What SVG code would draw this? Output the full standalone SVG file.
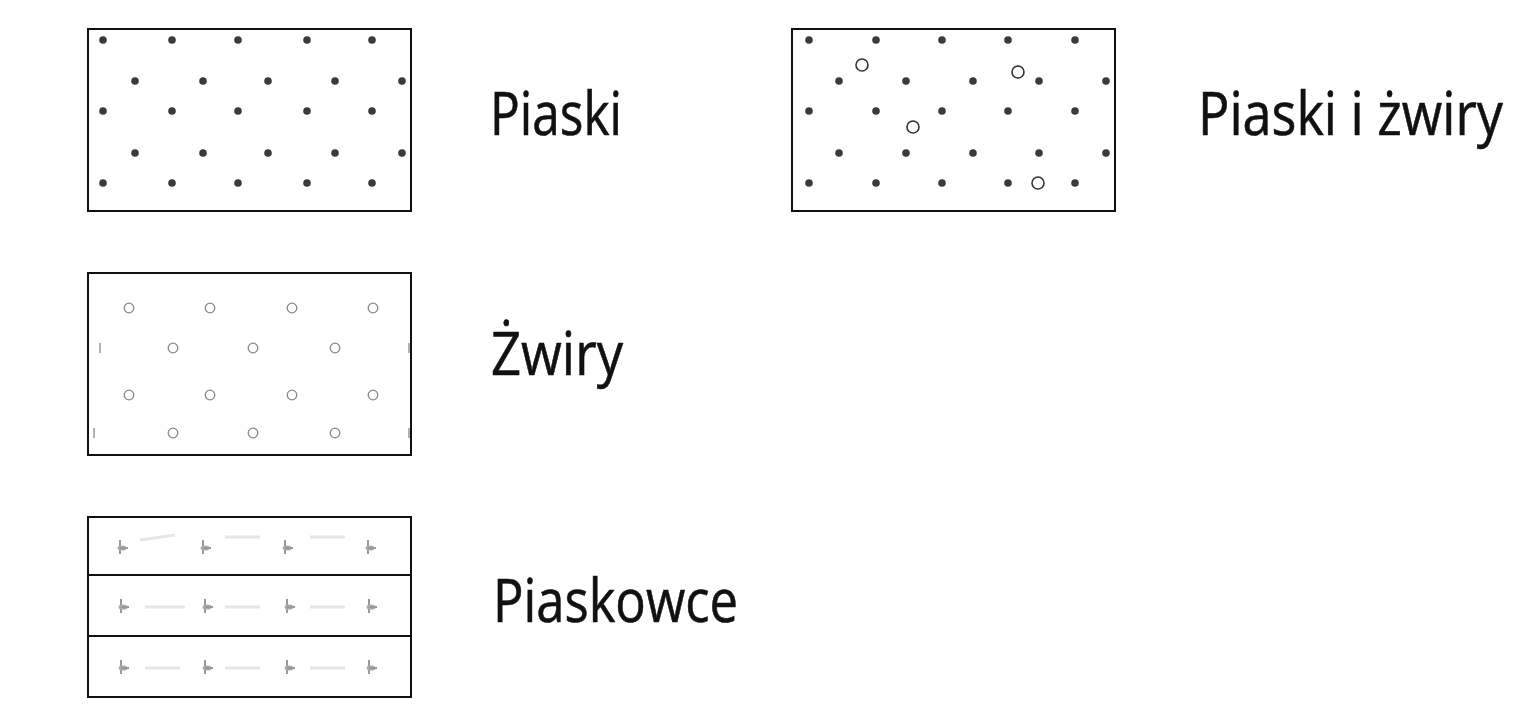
<svg xmlns="http://www.w3.org/2000/svg" width="1536" height="722" viewBox="0 0 1536 722">
<defs>
<style>
.box{fill:#fff;stroke:#111;stroke-width:2}
.lbl{font-family:"Open Sans","Noto Sans","DejaVu Sans",sans-serif;font-size:60px;fill:#111;stroke:#111;stroke-width:0.6}
.dot{fill:#3a3a3a}
.gc{fill:none;stroke:#333;stroke-width:1.6}
.sc{fill:none;stroke:#888;stroke-width:1.3}
.pm{fill:none;stroke:#999;stroke-width:2}
.faint{stroke:#e6e6e6;stroke-width:3}
</style>
<circle id="d" r="3.8" class="dot"/>
<circle id="s" r="4.8" class="sc"/>
<g id="m"><line x1="0" y1="-8" x2="0" y2="6" class="pm" stroke-width="1.2"/><ellipse cx="2" cy="0" rx="4.5" ry="2.6" fill="#aaa"/><line x1="0" y1="0" x2="8" y2="0" class="pm"/></g>
</defs>
<rect width="1536" height="722" fill="#fff"/>

<g id="piaski">
<rect class="box" x="88" y="29" width="323" height="182"/>
<g>
<use href="#d" x="103" y="40"/><use href="#d" x="172" y="40"/><use href="#d" x="238" y="40"/><use href="#d" x="307" y="40"/><use href="#d" x="372" y="40"/>
<use href="#d" x="135" y="81"/><use href="#d" x="203" y="81"/><use href="#d" x="268" y="81"/><use href="#d" x="335" y="81"/><use href="#d" x="402" y="81"/>
<use href="#d" x="103" y="111"/><use href="#d" x="172" y="111"/><use href="#d" x="238" y="111"/><use href="#d" x="307" y="111"/><use href="#d" x="372" y="111"/>
<use href="#d" x="135" y="153"/><use href="#d" x="203" y="153"/><use href="#d" x="268" y="153"/><use href="#d" x="335" y="153"/><use href="#d" x="402" y="153"/>
<use href="#d" x="103" y="183"/><use href="#d" x="172" y="183"/><use href="#d" x="238" y="183"/><use href="#d" x="307" y="183"/><use href="#d" x="372" y="183"/>
</g>
<text class="lbl" x="490" y="135" textLength="132" lengthAdjust="spacingAndGlyphs">Piaski</text>
</g>

<g id="piaski-zwiry">
<rect class="box" x="792" y="29" width="323" height="182"/>
<g>
<use href="#d" x="809" y="40"/><use href="#d" x="876" y="40"/><use href="#d" x="942" y="40"/><use href="#d" x="1008" y="40"/><use href="#d" x="1075" y="40"/>
<use href="#d" x="839" y="81"/><use href="#d" x="906" y="81"/><use href="#d" x="973" y="81"/><use href="#d" x="1039" y="81"/><use href="#d" x="1106" y="81"/>
<use href="#d" x="809" y="111"/><use href="#d" x="876" y="111"/><use href="#d" x="942" y="111"/><use href="#d" x="1008" y="111"/><use href="#d" x="1075" y="111"/>
<use href="#d" x="839" y="153"/><use href="#d" x="906" y="153"/><use href="#d" x="973" y="153"/><use href="#d" x="1039" y="153"/><use href="#d" x="1106" y="153"/>
<use href="#d" x="809" y="183"/><use href="#d" x="876" y="183"/><use href="#d" x="942" y="183"/><use href="#d" x="1008" y="183"/><use href="#d" x="1075" y="183"/>
<circle class="gc" cx="862" cy="65" r="6"/>
<circle class="gc" cx="1018" cy="72" r="6"/>
<circle class="gc" cx="913" cy="127" r="6"/>
<circle class="gc" cx="1038" cy="183" r="6"/>
</g>
<text class="lbl" transform="translate(1198,135) scale(0.87,1)" x="0" y="0">Piaski i żwiry</text>
</g>

<g id="zwiry">
<rect class="box" x="88" y="273" width="323" height="182"/>
<g>
<use href="#s" x="129" y="308"/><use href="#s" x="210" y="308"/><use href="#s" x="292" y="308"/><use href="#s" x="373" y="308"/>
<use href="#s" x="173" y="348"/><use href="#s" x="253" y="348"/><use href="#s" x="335" y="348"/>
<use href="#s" x="129" y="395"/><use href="#s" x="210" y="395"/><use href="#s" x="292" y="395"/><use href="#s" x="373" y="395"/>
<use href="#s" x="173" y="433"/><use href="#s" x="253" y="433"/><use href="#s" x="335" y="433"/>
<line x1="100" y1="343" x2="100" y2="353" stroke="#888" stroke-width="1.3"/>
<line x1="94" y1="428" x2="94" y2="438" stroke="#888" stroke-width="1.3"/>
<line x1="409" y1="343" x2="409" y2="353" stroke="#888" stroke-width="1.3"/>
<line x1="409" y1="428" x2="409" y2="438" stroke="#888" stroke-width="1.3"/>
</g>
<text class="lbl" x="491" y="375" textLength="132" lengthAdjust="spacingAndGlyphs">Żwiry</text>
</g>

<g id="piaskowce">
<rect class="box" x="88" y="517" width="323" height="180"/>
<line x1="88" y1="575" x2="411" y2="575" stroke="#111" stroke-width="2"/>
<line x1="88" y1="636" x2="411" y2="636" stroke="#111" stroke-width="2"/>
<g>
<line class="faint" x1="140" y1="540" x2="175" y2="535"/><line class="faint" x1="225" y1="537" x2="260" y2="537"/><line class="faint" x1="310" y1="537" x2="345" y2="537"/>
<line class="faint" x1="145" y1="607" x2="185" y2="607"/><line class="faint" x1="225" y1="607" x2="260" y2="607"/><line class="faint" x1="310" y1="607" x2="345" y2="607"/>
<line class="faint" x1="145" y1="668" x2="180" y2="668"/><line class="faint" x1="225" y1="668" x2="260" y2="668"/><line class="faint" x1="310" y1="668" x2="345" y2="668"/>
<use href="#m" x="120" y="548"/><use href="#m" x="203" y="548"/><use href="#m" x="285" y="548"/><use href="#m" x="368" y="548"/>
<use href="#m" x="121" y="607"/><use href="#m" x="205" y="607"/><use href="#m" x="287" y="607"/><use href="#m" x="369" y="607"/>
<use href="#m" x="121" y="668"/><use href="#m" x="205" y="668"/><use href="#m" x="287" y="668"/><use href="#m" x="369" y="668"/>
</g>
<text class="lbl" x="493" y="622" textLength="245" lengthAdjust="spacingAndGlyphs">Piaskowce</text>
</g>
</svg>
